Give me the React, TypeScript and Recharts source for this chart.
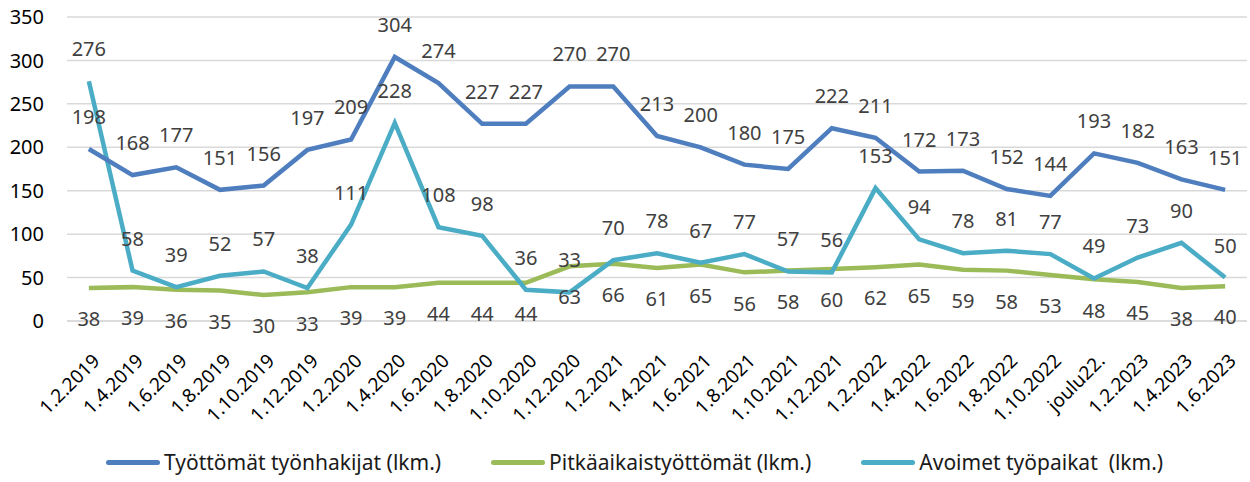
import { LineChart, Line, XAxis, YAxis, CartesianGrid, Legend, LabelList } from "recharts";

const dates = [
  "1.2.2019", "1.4.2019", "1.6.2019", "1.8.2019", "1.10.2019", "1.12.2019",
  "1.2.2020", "1.4.2020", "1.6.2020", "1.8.2020", "1.10.2020", "1.12.2020",
  "1.2.2021", "1.4.2021", "1.6.2021", "1.8.2021", "1.10.2021", "1.12.2021",
  "1.2.2022", "1.4.2022", "1.6.2022", "1.8.2022", "1.10.2022", "joulu22.",
  "1.2.2023", "1.4.2023", "1.6.2023",
];

const unemployed = [198, 168, 177, 151, 156, 197, 209, 304, 274, 227, 227, 270, 270, 213, 200, 180, 175, 222, 211, 172, 173, 152, 144, 193, 182, 163, 151];
const longTerm = [38, 39, 36, 35, 30, 33, 39, 39, 44, 44, 44, 63, 66, 61, 65, 56, 58, 60, 62, 65, 59, 58, 53, 48, 45, 38, 40];
const vacancies = [276, 58, 39, 52, 57, 38, 111, 228, 108, 98, 36, 33, 70, 78, 67, 77, 57, 56, 153, 94, 78, 81, 77, 49, 73, 90, 50];

const yTicks = [0, 50, 100, 150, 200, 250, 300, 350];

const SERIES = [
  { key: "unemployed", name: "Työttömät työnhakijat (lkm.)", color: "#4F7EBF" },
  { key: "longTerm", name: "Pitkäaikaistyöttömät (lkm.)", color: "#9BBB59" },
  { key: "vacancies", name: "Avoimet työpaikat  (lkm.)", color: "#4BACC6" },
];

const data = dates.map((d, i) => ({
  date: d,
  unemployed: unemployed[i],
  longTerm: longTerm[i],
  vacancies: vacancies[i],
}));

const FONT = "'Noto Sans', sans-serif";

function XTick({ x, y, payload }: any) {
  return (
    <g transform={`translate(${x + 12},${y + 33}) rotate(-45)`}>
      <text x={0} y={0} textAnchor="end" fill="#000" fontSize={19} fontFamily={FONT}>
        {payload.value}
      </text>
    </g>
  );
}

function LegendBox() {
  return (
    <div style={{ display: "flex", alignItems: "center", paddingLeft: 106, fontFamily: FONT, fontSize: 21, color: "#1a1a1a" }}>
      {SERIES.map((s, i) => (
        <div key={s.key} style={{ display: "flex", alignItems: "center", marginLeft: i === 0 ? 0 : 50 }}>
          <span style={{ display: "inline-block", width: 54, height: 5, borderRadius: 3, background: s.color }} />
          <span style={{ marginLeft: 4, whiteSpace: "pre" }}>{s.name}</span>
        </div>
      ))}
    </div>
  );
}

const labelStyle = { fontSize: 20, fontFamily: FONT, fill: "#404040" };

export default function App() {
  return (
    <div style={{ position: "absolute", left: 0, top: 0, background: "#fff" }}>
      <LineChart width={1250} height={482} data={data} margin={{ top: 17, right: 3, left: 0, bottom: 0 }}>
        <CartesianGrid vertical={false} stroke="#D9D9D9" strokeWidth={1.5} />
        <XAxis
          dataKey="date"
          interval={0}
          tickLine={false}
          axisLine={{ stroke: "#D9D9D9", strokeWidth: 1.5 }}
          height={127}
          padding={{ left: 21.85, right: 21.85 }}
          tick={<XTick />}
        />
        <YAxis
          width={67}
          domain={[0, 350]}
          ticks={yTicks}
          axisLine={false}
          tickLine={false}
          tickSize={0}
          tickMargin={23}
          tick={{ fill: "#000", fontSize: 20, fontFamily: FONT }}
        />
        <Legend verticalAlign="bottom" height={34} content={<LegendBox />} />
        <Line dataKey="longTerm" name={SERIES[1].name} stroke={SERIES[1].color} strokeWidth={4.5} dot={false} isAnimationActive={false}>
          <LabelList dataKey="longTerm" position="bottom" offset={24} style={labelStyle} />
        </Line>
        <Line dataKey="vacancies" name={SERIES[2].name} stroke={SERIES[2].color} strokeWidth={4.5} dot={false} isAnimationActive={false}>
          <LabelList dataKey="vacancies" position="top" offset={25} style={labelStyle} />
        </Line>
        <Line dataKey="unemployed" name={SERIES[0].name} stroke={SERIES[0].color} strokeWidth={4.5} dot={false} isAnimationActive={false}>
          <LabelList dataKey="unemployed" position="top" offset={25} style={labelStyle} />
        </Line>
      </LineChart>
    </div>
  );
}
